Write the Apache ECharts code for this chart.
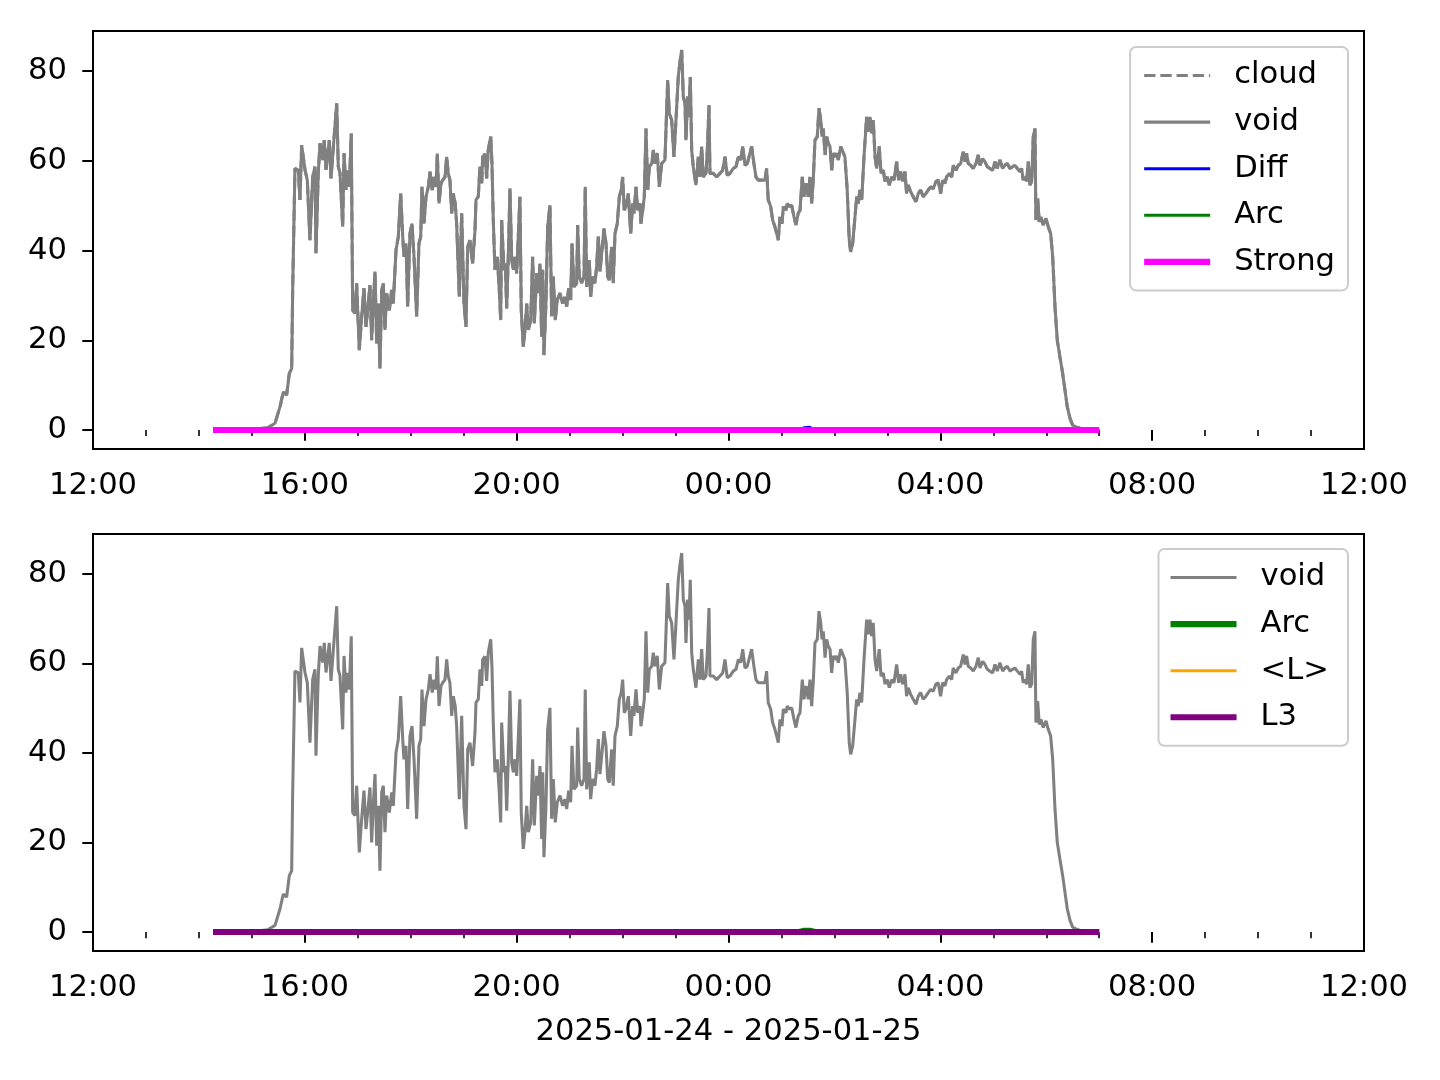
<!DOCTYPE html>
<html><head><meta charset="utf-8">
<script src="https://cdn.jsdelivr.net/npm/echarts@6/dist/echarts.min.js"></script>
<style>html,body{margin:0;padding:0;background:#fff}#c{width:1440px;height:1080px}</style>
</head><body><div id="c"></div>
<script>
// x values are minutes after 2025-01-24 12:00
const xTickLabels = ['12:00','16:00','20:00','00:00','04:00','08:00','12:00'];
const yTicks = [0, 20, 40, 60, 80];
const xTitle = '2025-01-24 - 2025-01-25';

const voidMinutes = [136,183.5,198,206.2,211.9,215.6,219.4,222.4,225.1,226.2,228.8,232.6,234.5,236.4,240.2,242.8,245.8,248.9,251.5,252.6,255.2,257.2,260.2,262,264,267.7,269.6,272.2,276.1,277.9,279.8,282.9,284.4,286.6,288.1,290.4,292.6,294.2,296.8,298.7,301.7,304.4,307,309.3,311.9,313.8,315.7,317.5,319.5,321.4,323.2,325.1,327.1,328.9,330.8,332.7,335.7,338.4,340.2,343.3,345.9,348.6,350.9,352.3,354.6,356.5,359.1,361.4,363.7,366.7,369.3,371.3,372.7,375,377.3,379.9,381.8,384.4,386.3,388.6,390.1,392,394.3,396.2,398.8,400.7,402.5,404.4,406.4,408.2,410.4,412,415,417.7,420.3,422.6,424.5,427.1,430.1,432.8,433.9,436.5,438.4,440.4,441.5,444.1,446,447.8,450.6,452,453.5,455.4,458,460.3,461.9,463,465.6,467.1,468.7,470.5,472.4,474.4,476.2,478.1,480,481.8,483.7,485.2,487.5,489.4,491.4,493.2,495.9,498.1,500,502.7,504.5,506.4,508.3,509.5,510.9,513.2,515.1,517.7,519.6,521.5,523.7,526,529.1,532.1,534.7,536.7,538.9,541.2,542.7,544.9,548,549.1,550.9,553.6,556.3,557.7,559.3,562.3,563.8,566.1,568.7,570.6,572.5,574.4,576.6,578.9,581.2,583.1,584.9,587.6,589.4,591.4,594,596.3,598.5,600.1,601.9,603.8,606.5,609.2,611.4,612.9,615.2,617.1,619.7,620.8,622.8,624.6,626.5,628.5,630.3,633,634.8,636.7,639.3,641.6,644.3,648,651.1,652.9,655.6,658.2,660.5,663.1,665,667,668.8,670.7,671.8,673.7,675.2,676.7,678.3,680.1,683.1,685.8,687.7,689.6,691.4,694.5,696,697.9,699,702.7,706.6,710.3,713.4,716,718.6,721.7,725.4,728.5,731.1,733.8,736.1,738.7,741.3,743.5,746.2,748.8,751.1,753.7,757.6,761.3,763.2,765,767.8,770,772.6,774.6,776.4,778.3,780.6,782.1,785.1,786.6,788.9,791.6,794.2,796.4,799,801,803.6,805.5,807.8,810.4,812.3,814.2,816,818,820.6,822.5,824.5,825.9,827.4,829.4,831.2,833,835,836.9,838.7,840.6,842.5,844.4,847.1,849.3,851.9,854.5,856.8,858.4,860.7,863.3,865.2,867,868.9,870.9,873.5,876.5,878.4,880.3,882.2,884,886,887.9,890.8,892.8,895.4,897.3,899.9,902.2,904.9,907.5,910.5,912.8,915,917.3,919.9,921.8,923.6,926.4,929.3,932.4,935,937.7,940.6,943.7,946.3,949,952,955,957.6,960.3,962.6,965.2,967.1,970.1,972.8,974.6,977.7,980.3,983,986,987.9,989.8,991.6,994.4,997.3,1000.4,1003,1004.9,1008,1010.5,1013.2,1016.2,1019.3,1021.9,1024.5,1027.5,1030.6,1033.2,1035.8,1038.9,1041.9,1044.5,1047.2,1050.2,1052.1,1053.9,1055.9,1057.8,1059.6,1061.5,1063.5,1065.3,1067.2,1068.3,1070.3,1072.1,1074,1076.6,1079.7,1082.3,1085,1087.3,1089.9,1092.5,1095.5,1098.6,1101.2,1103.8,1106.9,1109.9,1113.6,1123.8,1139.7];
const voidValues = [0,0.2,0.5,1.5,5.2,8.5,7.8,12.6,13.7,31,58.3,57.9,51.3,63.5,58,55.7,42.3,56.4,58.7,39.4,57.2,63.9,60.2,64.6,58,64.6,56.1,62.8,72.8,58.7,57.3,45.3,61.7,53.5,57.9,54.2,66.1,26.7,26,32.7,17.8,25.3,31.6,23,28.2,32.3,20,28.2,35.3,19.3,28.2,13.7,31.2,32.7,22.3,30.5,26.7,31.2,28.2,40.1,43.1,52.7,43.1,38.6,41.6,27.5,43.8,46,38.6,25.3,41.6,43.1,54.2,46,52,54.2,57.6,53.5,56.4,54.2,61.6,50.5,55,55.7,56.4,60.9,57.2,55.7,48.3,52.7,50.5,46,29.7,48.3,28.2,23,40.8,42.3,37.1,44.6,51.3,52,58.7,55,60.9,61.6,56.1,62.4,65.4,59.4,46.8,35.7,38.6,31.2,24.5,46.8,35.7,37.1,27.1,38.6,53.9,37.9,35.7,38.6,34.9,43.1,52,26.7,18.6,22.3,28.2,22.3,24.5,38.6,23.8,34.9,30.5,37.1,20.8,35.7,16.7,28.2,45.3,50.1,25.3,34.2,24.5,29,30.5,28.2,29.7,27.5,31.6,29,41.6,31.9,32.7,45.7,34.2,32.7,34.2,54.2,31.9,37.9,29.7,34.2,32.7,36.4,43.1,35.3,35.7,44.9,41.6,34.2,33.4,40.8,32.7,43.8,46,52,53.5,56.4,49,49.8,52.7,43.8,50.5,48.3,54.2,49,50.5,46,49,52,67.2,53.5,58.7,59.4,62.4,59.4,61.7,54.2,59.4,60.2,78,70.6,69.1,60.9,69.1,78.7,82.1,84.7,74.3,72.8,64.6,74.3,69.8,78.7,62.4,58.7,54.6,60.9,56.4,63.2,56.4,57.2,62.4,72.4,57.2,57.2,56.4,57.2,57.9,60.9,56.8,57.2,58.3,58.7,60.9,60.2,63.2,59,59.4,59,63.2,59.4,56.4,55.7,55.7,55.7,58.3,51.3,49.8,46.8,45.3,43.8,42.3,47.5,46,49.8,49,50.5,49.8,50.1,47.5,45.7,48.3,49,56.4,52,55,52,56.4,50.5,55.7,64.6,65.4,71.7,69.1,65.4,67.2,61.3,65.4,63.9,63.2,57.9,61.7,60.9,61.7,60.2,63.2,62.8,60.9,53.5,42.3,39.7,41.6,47.5,52,50.5,53.5,51.3,60.9,69.8,66.5,69.8,66.1,69.1,60.9,58.3,63.2,57.2,57.9,55.4,56.4,54.6,56.4,55.7,59.8,55.7,57.6,55.4,57.6,52.7,54.6,53.1,52,50.9,52.7,53.5,52,52.7,53.5,54.2,53.8,55.4,55.7,52.7,55.7,55,56.4,57.2,56.4,59,57.9,59,59.4,62,59.8,61.7,59.4,59,58.3,59.4,61.3,59,60.5,59.8,58.7,58.3,57.9,59.8,58.3,60.2,58.3,59,59.4,58.3,58.7,59,58.3,57.6,58.3,55.7,56.4,55.4,59.8,54.6,55.4,65.4,67.2,46.8,51.6,46.4,47.5,45.7,47.2,45.3,43.8,38.6,27.5,20,16.3,12.6,8.9,5.2,2.6,1.1,0.7,0,0];

const diffMinutes = [136, 800, 806, 812, 818, 1140];
const diffValues  = [0, 0, 0.5, 0.6, 0, 0];
const arcMinutes  = [136, 800, 806, 812, 818, 1140];
const arcValues   = [0, 0, 0.3, 0.3, 0, 0];
const strongMinutes = [136, 1140];
const strongValues  = [0, 0];
const meanLMinutes = [136, 1140];
const meanLValues  = [0, 0];
const l3Minutes = [136, 1140];
const l3Values  = [0, 0];

function pairs(xs, ys) { return xs.map((x, i) => [x, ys[i]]); }

const FONT = 'DejaVu Sans';
const FS = 30.6;
const GRAY = '#808080';
const THIN = 3.06, THICK = 6.1;
const DASH = [11.3, 4.9];

function xAxisCfg(idx, withName) {
  const c = {
    type: 'value', gridIndex: idx, min: 0, max: 1440, interval: 240,
    axisLine: { show: false },
    axisTick: { show: true, length: 10.7, lineStyle: { color: '#000', width: 2 } },
    minorTick: { show: true, splitNumber: 4, length: 6.1, lineStyle: { color: '#000', width: 1.6 } },
    splitLine: { show: false },
    axisLabel: {
      show: true, margin: 22, color: '#000', fontFamily: FONT, fontSize: FS,
      formatter: v => xTickLabels[Math.round(v / 240)]
    }
  };
  if (withName) {
    c.name = xTitle; c.nameLocation = 'middle'; c.nameGap = 66;
    c.nameTextStyle = { color: '#000', fontFamily: FONT, fontSize: FS };
  }
  return c;
}
function yAxisCfg(idx) {
  return {
    type: 'value', gridIndex: idx, min: -4.235, max: 88.94,
    axisLine: { show: false },
    axisTick: { show: true, length: 10.7, customValues: yTicks, lineStyle: { color: '#000', width: 2 } },
    splitLine: { show: false },
    axisLabel: { show: true, margin: 26, color: '#000', fontFamily: FONT, fontSize: FS, customValues: yTicks }
  };
}
function line(name, xs, ys, color, width, gi, dashed) {
  return {
    name, type: 'line', xAxisIndex: gi, yAxisIndex: gi,
    data: pairs(xs, ys), showSymbol: false, symbol: 'none',
    lineStyle: { color, width, type: dashed ? DASH : 'solid', cap: 'butt' },
    itemStyle: { color }, animation: false, silent: true
  };
}
function legItem(name, color, width, dashed) {
  return { name, itemStyle: { opacity: 0 }, lineStyle: { color, width, type: dashed ? DASH : 'solid', cap: 'butt' } };
}
function legendCfg(items, right, top, padLeft) {
  return {
    data: items, orient: 'vertical', right, top,
    itemWidth: 66, itemHeight: 30, itemGap: 15.6,
    padding: [13, 13, 13, padLeft],
    borderColor: '#cccccc', borderWidth: 2, borderRadius: 6, backgroundColor: '#fff',
    itemStyle: { opacity: 0 },
    textStyle: { color: '#000', fontFamily: FONT, fontSize: FS, lineHeight: 30, padding: [0, 0, 0, 19] },
    selectedMode: false
  };
}

const chart = echarts.init(document.getElementById('c'), null, { renderer: 'canvas' });
chart.setOption({
  animation: false,
  backgroundColor: '#fff',
  grid: [
    { left: 93, top: 31, width: 1271, height: 418, show: true, borderColor: '#000', borderWidth: 2, backgroundColor: 'transparent' },
    { left: 93, top: 534, width: 1271, height: 417, show: true, borderColor: '#000', borderWidth: 2, backgroundColor: 'transparent' }
  ],
  xAxis: [xAxisCfg(0, false), xAxisCfg(1, true)],
  yAxis: [yAxisCfg(0), yAxisCfg(1)],
  legend: [
    Object.assign(legendCfg([
      legItem('cloud', GRAY, THIN, true),
      legItem('void', GRAY, THIN, false),
      legItem('Diff', '#0000ff', THIN, false),
      legItem('Arc', '#008000', THIN, false),
      legItem('Strong', '#ff00ff', THICK, false)
    ], 92, 47, 11), { id: 'l0' }),
    Object.assign(legendCfg([
      legItem('void ', GRAY, THIN, false),
      legItem('Arc ', '#008000', THICK, false),
      legItem('<L>', '#ffa500', THIN, false),
      legItem('L3', '#800080', THICK, false)
    ], 92, 549, 9), { id: 'l1' })
  ],
  series: [
    line('cloud', voidMinutes, voidValues, GRAY, THIN, 0, true),
    line('void', voidMinutes, voidValues, GRAY, THIN, 0, false),
    line('Diff', diffMinutes, diffValues, '#0000ff', THIN, 0, false),
    line('Arc', arcMinutes, arcValues, '#008000', THIN, 0, false),
    line('Strong', strongMinutes, strongValues, '#ff00ff', THICK, 0, false),
    line('void ', voidMinutes, voidValues, GRAY, THIN, 1, false),
    line('Arc ', arcMinutes, arcValues, '#008000', THICK, 1, false),
    line('<L>', meanLMinutes, meanLValues, '#ffa500', THIN, 1, false),
    line('L3', l3Minutes, l3Values, '#800080', THICK, 1, false)
  ]
});
</script></body></html>
